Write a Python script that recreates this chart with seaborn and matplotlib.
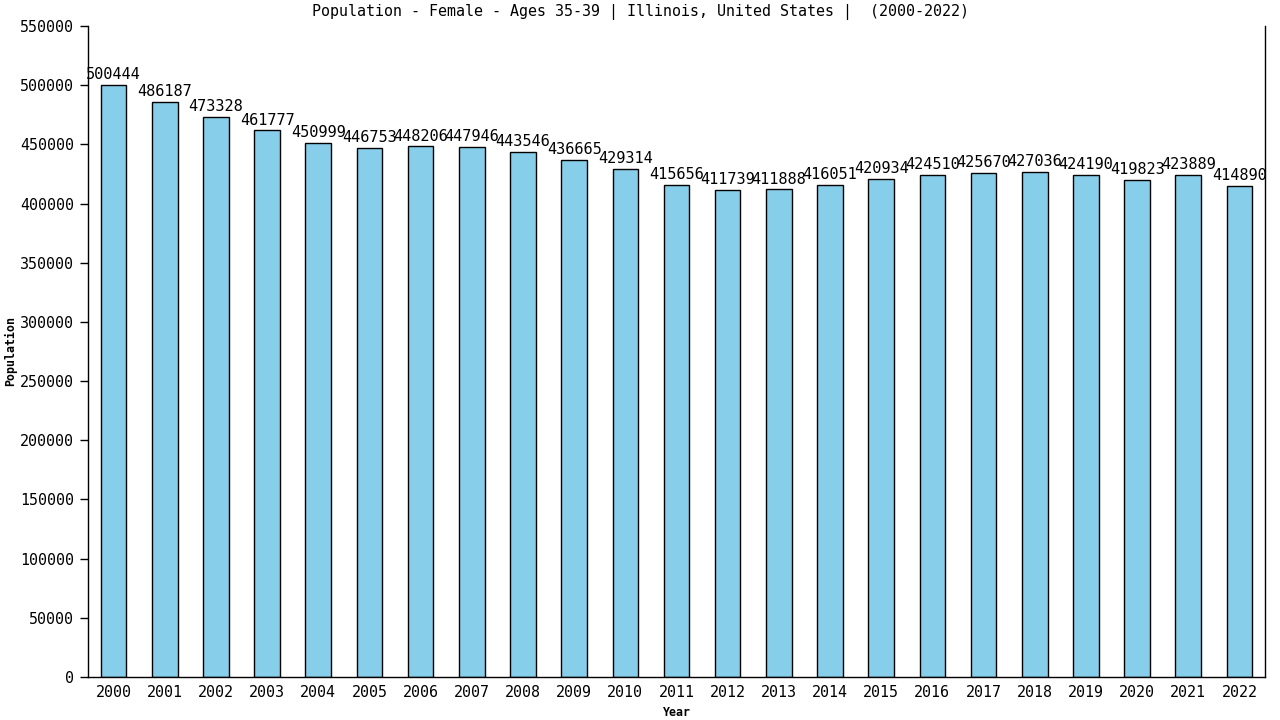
import numpy as np
import pandas as pd
import matplotlib
matplotlib.use("Agg")
import matplotlib.pyplot as plt
import seaborn as sns

years = [str(y) for y in range(2000, 2023)]
population = [500444, 486187, 473328, 461777, 450999, 446753, 448206, 447946,
              443546, 436665, 429314, 415656, 411739, 411888, 416051, 420934,
              424510, 425670, 427036, 424190, 419823, 423889, 414890]
y_ticks = list(range(0, 550001, 50000))

sns.set_style("white")
plt.rcParams['font.family'] = ['DejaVu Sans Mono', 'DejaVu Sans']
plt.rcParams['text.color'] = 'black'
plt.rcParams['axes.labelcolor'] = 'black'
plt.rcParams['xtick.color'] = 'black'
plt.rcParams['ytick.color'] = 'black'

df = pd.DataFrame({"Year": years, "Population": population})

fig = plt.figure(figsize=(12.8, 7.2), dpi=100)
ax = fig.add_axes([88 / 1280, 1 - 677 / 720, (1265 - 88) / 1280, (677 - 26) / 720])

sns.barplot(data=df, x="Year", y="Population", ax=ax, color="#87CEEB",
            saturation=1, width=0.5, edgecolor="black", linewidth=1)

ax.bar_label(ax.containers[0], labels=[str(v) for v in population],
             padding=2, fontsize=11, color="black")

ax.set_ylim(0, 550000)
ax.set_xlim(-0.5, len(years) - 0.5)
ax.set_yticks(y_ticks)
ax.set_yticklabels([str(t) for t in y_ticks], fontsize=10.8)
ax.tick_params(axis="x", length=0, labelsize=10.8, pad=6)
ax.tick_params(axis="y", length=6, width=1, direction="out", left=True, pad=4)

for s in ["left", "right", "bottom"]:
    ax.spines[s].set_visible(True)
    ax.spines[s].set_color("black")
    ax.spines[s].set_linewidth(1)
ax.spines["top"].set_visible(False)

ax.set_xlabel("Year", fontsize=8.4, fontweight="bold", labelpad=4)
ax.set_ylabel("Population", fontsize=8.4, fontweight="bold", labelpad=2)
fig.suptitle("Population - Female - Ages 35-39 | Illinois, United States |  (2000-2022)",
             fontsize=10.8, x=0.5, y=0.995, va="top")

fig.savefig("out.png", dpi=100)
